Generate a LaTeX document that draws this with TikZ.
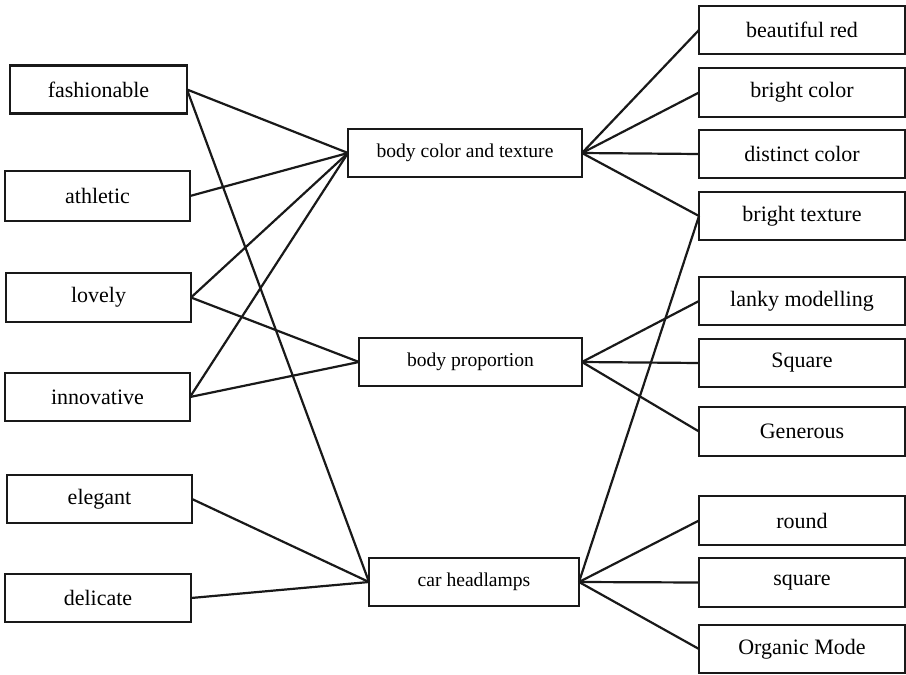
\documentclass[tikz,border=0pt]{standalone}
\usepackage{fontspec}
\setmainfont{Liberation Serif}
\begin{document}
\begin{tikzpicture}[x=1pt,y=-1pt,
  box/.style={draw=black!90,line width=2.4pt,rectangle,inner sep=0pt,outer sep=0pt,minimum height=48pt,font=\fontsize{22}{26}\selectfont},
  mid/.style={box,font=\fontsize{19.6}{24}\selectfont},
  rbox/.style={box,minimum width=206pt},
  link/.style={draw=black!90,line width=2.2pt}]
\path[use as bounding box] (0,0) rectangle (906,675);
% left
\node[box,minimum width=177pt] (fash) at (98.5,89.5) {fashionable};
\node[box,minimum width=185pt,minimum height=50pt] (ath) at (97.5,196) {athletic};
\node[box,minimum width=185pt,minimum height=49pt] (lov) at (98.5,297.5) {lovely};
\node[box,minimum width=185pt] (inn) at (97.5,397) {innovative};
\node[box,minimum width=185pt] (ele) at (99.5,499) {elegant};
\node[box,minimum width=186pt] (del) at (98,598) {delicate};
% middle
\node[mid,minimum width=234pt] (bct) at (465,153) {body color and texture};
\node[mid,minimum width=223pt] (bp) at (470.5,362) {body proportion};
\node[mid,minimum width=210pt] (ch) at (474,582) {car headlamps};
% right
\node[rbox] (br) at (802,30) {beautiful red};
\node[rbox,minimum height=49pt] (bc) at (802,92.5) {bright color};
\node[rbox] (dc) at (802,154) {distinct color};
\node[rbox] (bt) at (802,216) {bright texture};
\node[rbox] (lm) at (802,301) {lanky modelling};
\node[rbox] (sq1) at (802,363) {Square};
\node[rbox,minimum height=49pt] (gen) at (802,431.5) {Generous};
\node[rbox,minimum height=49pt] (rnd) at (802,520.5) {round};
\node[rbox,minimum height=49pt] (sq2) at (802,582.5) {square};
\node[rbox] (om) at (802,649) {Organic Mode};
% left connectors
\path[link] (fash.east) -- (bct.west);
\path[link] (ath.east) -- (bct.west);
\path[link] (lov.east) -- (bct.west);
\path[link] (inn.east) -- (bct.west);
\path[link] (lov.east) -- (bp.west);
\path[link] (inn.east) -- (bp.west);
\path[link] (fash.east) -- (ch.west);
\path[link] (ele.east) -- (ch.west);
\path[link] (del.east) -- (ch.west);
% right connectors
\path[link] (bct.east) -- (br.west);
\path[link] (bct.east) -- (bc.west);
\path[link] (bct.east) -- (dc.west);
\path[link] (bct.east) -- (bt.west);
\path[link] (bp.east) -- (lm.west);
\path[link] (bp.east) -- (sq1.west);
\path[link] (bp.east) -- (gen.west);
\path[link] (ch.east) -- (bt.west);
\path[link] (ch.east) -- (rnd.west);
\path[link] (ch.east) -- (sq2.west);
\path[link] (ch.east) -- (om.west);
\end{tikzpicture}
\end{document}
